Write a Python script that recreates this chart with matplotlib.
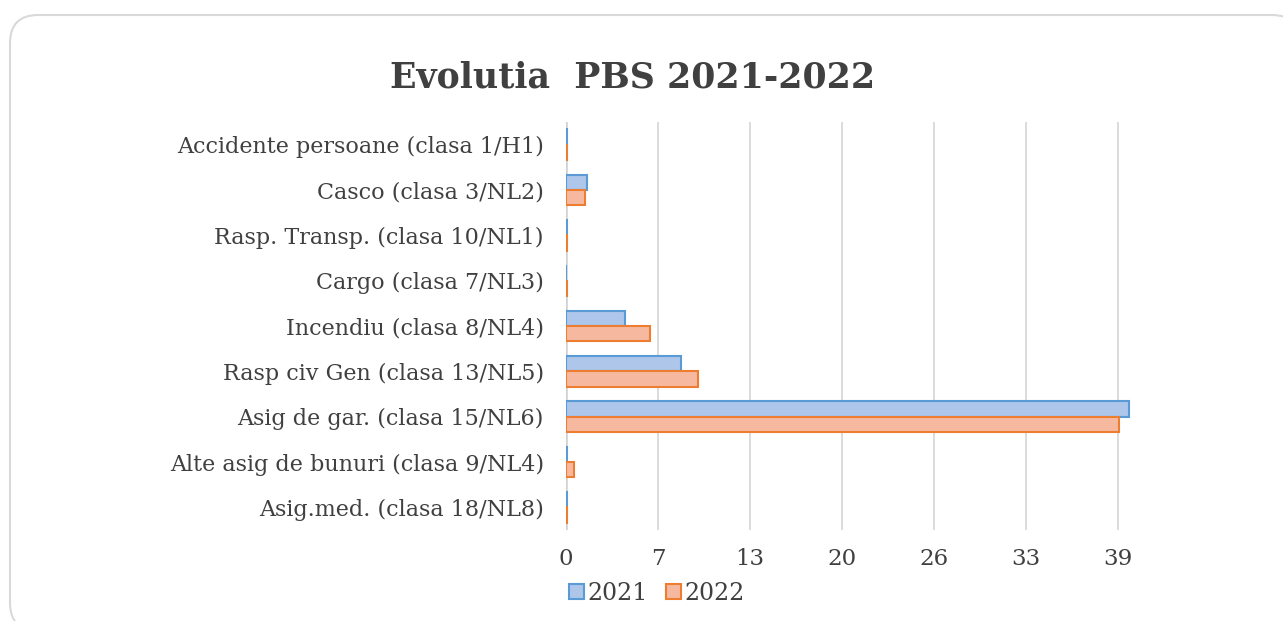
import matplotlib
matplotlib.use("Agg")
import matplotlib.pyplot as plt
from matplotlib.patches import FancyBboxPatch, Patch
import numpy as np

categories = [
    "Accidente persoane (clasa 1/H1)",
    "Casco (clasa 3/NL2)",
    "Rasp. Transp. (clasa 10/NL1)",
    "Cargo (clasa 7/NL3)",
    "Incendiu (clasa 8/NL4)",
    "Rasp civ Gen (clasa 13/NL5)",
    "Asig de gar. (clasa 15/NL6)",
    "Alte asig de bunuri (clasa 9/NL4)",
    "Asig.med. (clasa 18/NL8)",
]
values_2021 = [0.08, 1.5, 0.10, 0.0, 4.2, 8.1, 39.8, 0.05, 0.05]
values_2022 = [0.05, 1.35, 0.08, 0.05, 5.95, 9.35, 39.1, 0.6, 0.04]
tick_values = [0, 6.5, 13, 19.5, 26, 32.5, 39]
tick_labels = ["0", "7", "13", "20", "26", "33", "39"]
series_names = ["2021", "2022"]

plt.rcParams["font.family"] = ["DejaVu Serif"]
text_color = "#404040"

fig = plt.figure(figsize=(12.83, 6.21), dpi=100)
fig.patch.set_facecolor("white")

# rounded chart frame
x0, y0 = 10 / 1283, -10 / 621
x1, y1 = 1300 / 1283, 1 - 15 / 621
frame = FancyBboxPatch((x0, y0), x1 - x0, y1 - y0,
                       boxstyle="round,pad=0,rounding_size=0.022",
                       transform=fig.transFigure, facecolor="white",
                       edgecolor="#d9d9d9", linewidth=1.5, zorder=-10,
                       mutation_aspect=1283 / 621)
fig.patches.append(frame)

ax = fig.add_axes([566 / 1283, 1 - 530 / 621, (1185 - 566) / 1283, (530 - 122) / 621])
ax.set_facecolor("none")
ax.set_zorder(5)

y = np.arange(len(categories))
h = 0.34
ax.barh(y - h / 2, values_2021, height=h, color="#adc6ea", edgecolor="#5b9bd5",
        linewidth=1.5, zorder=3, label=series_names[0])
ax.barh(y + h / 2, values_2022, height=h, color="#f6b9a0", edgecolor="#ed7d31",
        linewidth=1.5, zorder=3, label=series_names[1])

ax.set_ylim(len(categories) - 0.5, -0.5)
ax.set_xlim(0, (1185 - 566) / (92 / 6.5))
ax.set_yticks(y)
ax.set_yticklabels(categories, fontsize=16, color=text_color)
ax.set_xticks(tick_values)
ax.set_xticklabels(tick_labels, fontsize=16.5, color=text_color)
ax.tick_params(axis="y", length=0, pad=16)
ax.tick_params(axis="x", length=0, pad=13)

for t in tick_values[1:]:
    ax.axvline(t, color="#d9d9d9", linewidth=1.3, zorder=1)
ax.axvline(0, color="#d0d0d0", linewidth=1.8, zorder=2)

for s in ax.spines.values():
    s.set_visible(False)

fig.text(0.493, 1 - 77 / 621, "Evolutia  PBS 2021-2022", ha="center", va="center",
         fontsize=25, fontweight="bold", color=text_color)

handles = [Patch(facecolor="#adc6ea", edgecolor="#5b9bd5", linewidth=1.5),
           Patch(facecolor="#f6b9a0", edgecolor="#ed7d31", linewidth=1.5)]
fig.legend(handles, series_names, loc="center", bbox_to_anchor=(657 / 1283, 1 - 593 / 621),
           ncol=2, frameon=False, fontsize=17, handlelength=0.6, handleheight=0.6,
           handletextpad=0.15, columnspacing=0.8, labelcolor=text_color)

fig.savefig("out.png", dpi=100, facecolor="white")
